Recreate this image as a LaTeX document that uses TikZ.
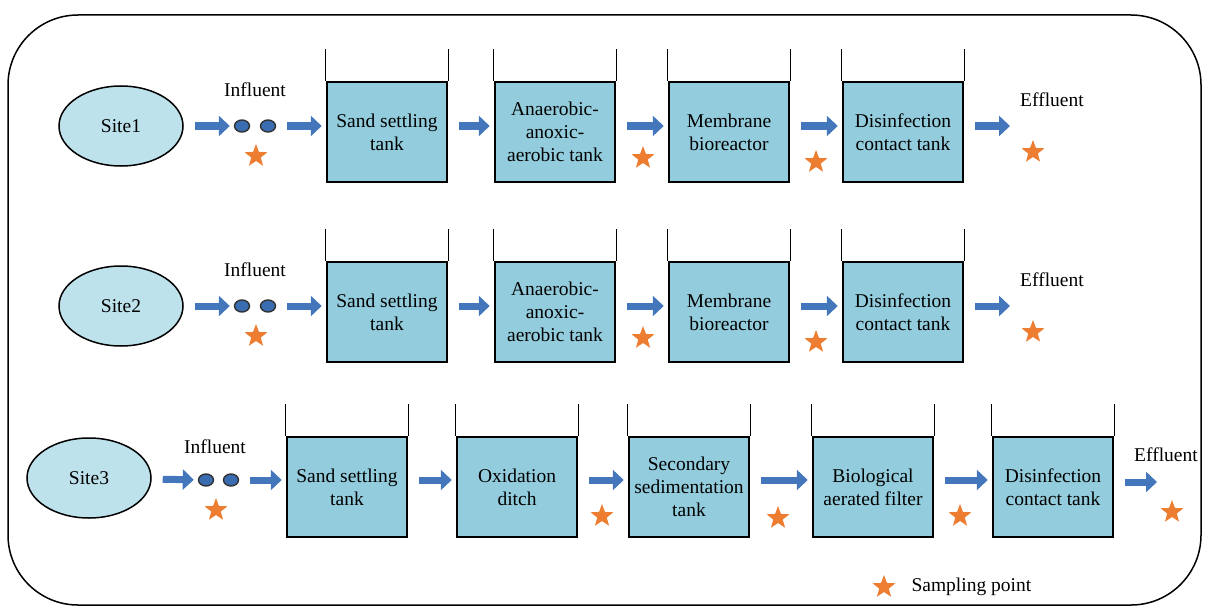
\documentclass[tikz,border=0pt]{standalone}
\usepackage{fontspec}
\setmainfont{Liberation Serif}
\usetikzlibrary{shapes.geometric,arrows.meta}

\definecolor{tankfill}{RGB}{147,205,221}
\definecolor{sitefill}{RGB}{190,226,236}
\definecolor{flowblue}{RGB}{68,118,188}
\definecolor{dropblue}{RGB}{58,108,178}
\definecolor{starorange}{RGB}{237,125,49}

\tikzset{%
  every site/.style={
    ellipse,
    draw,
    line width=1.5pt,
    fill=sitefill,
    minimum width=124pt,
    minimum height=80pt,
    inner sep=0pt
  },
  tank/.style={
    rectangle,
    draw,
    line width=2.5pt,
    fill=tankfill,
    minimum width=120pt,
    minimum height=100pt,
    align=center,
    inner sep=2pt
  },
  wall/.style={line width=1.2pt},
  flow/.style={
    line width=7pt,
    draw=flowblue,
    -{Triangle[length=11pt,width=20pt]},
    shorten <=11pt,
    shorten >=4pt
  },
  drop/.style={
    ellipse,
    draw=black!80,
    line width=1.4pt,
    fill=dropblue,
    minimum width=15pt,
    minimum height=12pt,
    inner sep=0pt
  },
  sample/.style={
    star,
    star points=5,
    star point ratio=2.4,
    fill=starorange,
    minimum size=24pt,
    inner sep=0pt
  },
}

\begin{document}
\begin{tikzpicture}[x=1pt, y=-1pt,
    every node/.append style={font=\fontsize{19.5}{23}\selectfont}]

    \useasboundingbox (0,0) rectangle (1209,607);
    \draw [line width=1.5pt, rounded corners=70pt] (8,15) rectangle (1201,605);

    % rows 1 and 2
    \foreach \r/\dy in {1/0, 2/180} {
      \begin{scope}[shift={(0,\dy)}]
        \node [every site] (site-\r) at (121,126) {Site\r};
        \node [drop] (drop-\r-a) at (242,126) {};
        \node [drop] (drop-\r-b) at (268,126) {};
        \node (in-\r) at (255,90) {Influent};
        \node [sample] (s-\r-0) at (256,156) {};

        \foreach \x/\t [count=\i] in {387/{Sand settling\\tank},
            555/{Anaerobic-\\anoxic-\\aerobic tank},
            729/{Membrane\\bioreactor},
            903/{Disinfection\\contact tank}}
          \node [tank] (tank-\r-\i) at (\x,132) {\t};

        \foreach \i in {1,...,4}
          \draw [wall] (tank-\r-\i.north west) -- ++(0,-32)
                       (tank-\r-\i.north east) -- ++(0,-32);

        \draw [flow] (site-\r) -- (drop-\r-a);
        \draw [flow] (drop-\r-b) -- (tank-\r-1.west |- drop-\r-b);
        \foreach \i/\j in {1/2, 2/3, 3/4}
          \draw [flow] (tank-\r-\i.east |- site-\r) -- (tank-\r-\j.west |- site-\r);

        \coordinate (out-\r) at (1014,126);
        \draw [flow] (tank-\r-4.east |- site-\r) -- (out-\r);

        \node [sample] (s-\r-2) at (643,158) {};
        \node [sample] (s-\r-3) at (816,162) {};
        \node (eff-\r) at (1052,100) {Effluent};
        \node [sample] (s-\r-4) at (1033,152) {};
      \end{scope}
    }

    % row 3
    \node [every site] (site-3) at (89,478) {Site3};
    \node [drop] (drop-3-a) at (206,480) {};
    \node [drop] (drop-3-b) at (231,480) {};
    \node (in-3) at (215,447) {Influent};
    \node [sample] (s-3-0) at (216,510) {};

    \foreach \x/\t [count=\i] in {347/{Sand settling\\tank},
        517/{Oxidation\\ditch},
        689/{Secondary\\sedimentation\\tank},
        873/{Biological\\aerated filter},
        1053/{Disinfection\\contact tank}}
      \node [tank] (tank-3-\i) at (\x,487) {\t};

    \foreach \i in {1,...,5}
      \draw [wall] (tank-3-\i.north west) -- ++(0,-32)
                   (tank-3-\i.north east) -- ++(0,-32);

    \draw [flow] (site-3) -- (drop-3-a);
    \draw [flow] (drop-3-b) -- (tank-3-1.west |- drop-3-b);
    \foreach \i/\j in {1/2, 2/3, 3/4, 4/5}
      \draw [flow] (tank-3-\i.east |- drop-3-a) -- (tank-3-\j.west |- drop-3-a);

    \coordinate (out-3) at (1161,482);
    \draw [flow] (tank-3-5.east |- out-3) -- (out-3);

    \node [sample] (s-3-2) at (602,516) {};
    \node [sample] (s-3-3) at (778,518) {};
    \node [sample] (s-3-4) at (960,516) {};
    \node (eff-3) at (1166,455) {Effluent};
    \node [sample] (s-3-5) at (1172,512) {};

    % legend
    \node [sample] (key) at (884,587) {};
    \node [anchor=west] (key-text) at (908,587) {Sampling point};

\end{tikzpicture}
\end{document}
